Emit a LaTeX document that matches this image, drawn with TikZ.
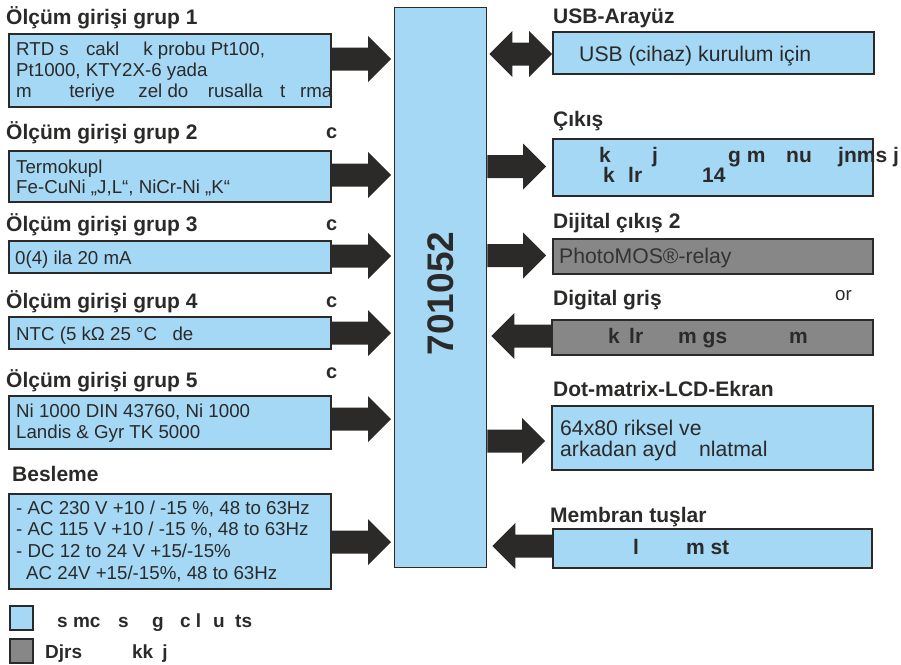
\documentclass[tikz,border=0pt]{standalone}
\usepackage{fontspec}
\setmainfont{Liberation Sans}
\usetikzlibrary{calc}
\definecolor{lb}{RGB}{164,216,245}
\definecolor{gr}{RGB}{135,135,135}
\definecolor{dk}{RGB}{43,42,41}
% right-pointing block arrow: from #1.east to #2.west (minus gap #4) at pixel row #3
\newcommand\arrowR[4]{%
 \fill[dk] let \p1=(#1.east), \p2=(#2.west) in
  (\x1,{-#3pt+11.5pt}) -- ({\x2-#4pt-23pt},{-#3pt+11.5pt}) -- ({\x2-#4pt-23pt},{-#3pt+23pt})
  -- ({\x2-#4pt},{-#3pt}) -- ({\x2-#4pt-23pt},{-#3pt-23pt}) -- ({\x2-#4pt-23pt},{-#3pt-11.5pt})
  -- (\x1,{-#3pt-11.5pt}) -- cycle;}
% left-pointing block arrow: from #1.west to #2.east (plus gap #4)
\newcommand\arrowL[4]{%
 \fill[dk] let \p1=(#1.west), \p2=(#2.east) in
  (\x1,{-#3pt+11.5pt}) -- ({\x2+#4pt+23pt},{-#3pt+11.5pt}) -- ({\x2+#4pt+23pt},{-#3pt+23pt})
  -- ({\x2+#4pt},{-#3pt}) -- ({\x2+#4pt+23pt},{-#3pt-23pt}) -- ({\x2+#4pt+23pt},{-#3pt-11.5pt})
  -- (\x1,{-#3pt-11.5pt}) -- cycle;}
% double block arrow between #1.east and #2.west
\newcommand\arrowD[3]{%
 \fill[dk] let \p1=(#1.east), \p2=(#2.west) in
  ({\x1+2pt},{-#3pt}) -- ({\x1+25pt},{-#3pt+23pt}) -- ({\x1+25pt},{-#3pt+11.5pt})
  -- ({\x2-23pt},{-#3pt+11.5pt}) -- ({\x2-23pt},{-#3pt+23pt}) -- (\x2,{-#3pt})
  -- ({\x2-23pt},{-#3pt-23pt}) -- ({\x2-23pt},{-#3pt-11.5pt}) -- ({\x1+25pt},{-#3pt-11.5pt})
  -- ({\x1+25pt},{-#3pt-23pt}) -- cycle;}
\begin{document}
\begin{tikzpicture}[x=1pt,y=-1pt,
  bx/.style={draw=dk, line width=1.5pt, fill=lb, inner sep=0pt, anchor=north west},
  gbx/.style={bx, fill=gr},
  ttl/.style={inner sep=0pt, anchor=base west, text=dk, font=\fontsize{21}{25}\selectfont\bfseries},
  txt/.style={inner sep=0pt, anchor=base west, text=dk, font=\fontsize{18.7}{22}\selectfont},
  rtxt/.style={inner sep=0pt, anchor=base west, text=dk, font=\fontsize{21.2}{25}\selectfont},
  btxt/.style={inner sep=0pt, anchor=base west, text=dk, font=\fontsize{21}{25}\selectfont\bfseries},
  ltxt/.style={inner sep=0pt, anchor=base west, text=dk, font=\fontsize{19}{23}\selectfont\bfseries},
  ctxt/.style={inner sep=0pt, anchor=base west, text=dk, font=\fontsize{20}{24}\selectfont\bfseries}]
\useasboundingbox (0,0) rectangle (901,664);

% central unit
\node[bx, line width=1.4pt, minimum width=92pt, minimum height=560pt] (core) at (394,7) {};
\node[inner sep=0pt, rotate=90, text=dk, font=\fontsize{37}{40}\selectfont\bfseries] (corelbl) at (441,293.5) {701052};

% left boxes
\node[bx, minimum width=322pt, minimum height=73pt] (b1) at (8,33) {};
\node[bx, minimum width=322pt, minimum height=51pt] (b2) at (8,150) {};
\node[bx, minimum width=322pt, minimum height=32pt] (b3) at (8,240) {};
\node[bx, minimum width=322pt, minimum height=32pt] (b4) at (8,316) {};
\node[bx, minimum width=322pt, minimum height=53pt] (b5) at (8,395) {};
\node[bx, minimum width=322pt, minimum height=95pt] (b6) at (8,493) {};

% right boxes
\node[bx, minimum width=321pt, minimum height=42pt] (r1) at (552,31) {};
\node[bx, minimum width=320pt, minimum height=57pt] (r2) at (552,138) {};
\node[gbx, minimum width=320pt, minimum height=35pt] (r3) at (552,238) {};
\node[gbx, minimum width=321pt, minimum height=35pt] (r4) at (551,319) {};
\node[bx, minimum width=321pt, minimum height=64pt] (r5) at (551,405) {};
\node[bx, minimum width=319pt, minimum height=39pt] (r6) at (552,528) {};

% legend squares
\node[bx, minimum width=23pt, minimum height=24pt] (leg1) at (9,605) {};
\node[gbx, minimum width=23pt, minimum height=24pt] (leg2) at (9,638) {};

% arrows
\arrowR{b1}{core}{59}{3}
\arrowR{b2}{core}{175}{3}
\arrowR{b3}{core}{256}{3}
\arrowR{b4}{core}{333}{3}
\arrowR{b5}{core}{419}{3}
\arrowR{b6}{core}{542}{3}
\arrowD{core}{r1}{54}
\arrowR{core}{r2}{166.5}{6}
\arrowR{core}{r3}{255.5}{6}
\arrowL{r4}{core}{336}{4}
\arrowR{core}{r5}{441}{6}
\arrowL{r6}{core}{546}{5}

% left titles
\node[ttl] (t1) at (6,24) {Ölçüm girişi grup 1};
\node[ttl] (t2) at (6,139) {Ölçüm girişi grup 2};
\node[ttl] (t3) at (6,231) {Ölçüm girişi grup 3};
\node[ttl] (t4) at (6,308) {Ölçüm girişi grup 4};
\node[ttl] (t5) at (6,387) {Ölçüm girişi grup 5};
\node[ttl] (t6) at (12,481) {Besleme};
\node[ctxt] (c2) at (326,138) {c};
\node[ctxt] (c3) at (326,230) {c};
\node[ctxt] (c4) at (326,307) {c};
\node[ctxt] (c5) at (326,378) {c};

% left texts
\node[txt] (x11) at (16,55) {RTD s\hspace{17.3pt}cakl\hspace{24pt}k probu Pt100,};
\node[txt] (x12) at (16,76) {Pt1000, KTY2X-6 yada};
\node[txt] (x13) at (16,97) {m\hspace{37.5pt}teriye\hspace{23.5pt}zel do\hspace{19.4pt}rusalla\hspace{17.2pt}t\hspace{14.8pt}rma};
\node[txt] (x21) at (16,173) {Termokupl};
\node[txt] (x22) at (16,193.5) {Fe-CuNi „J,L“, NiCr-Ni „K“};
\node[txt] (x31) at (15,264) {0(4) ila 20 mA};
\node[txt] (x41) at (16,340) {NTC (5 kΩ 25 °C\hspace{15.4pt}de};
\node[txt] (x51) at (16,417) {Ni 1000 DIN 43760, Ni 1000};
\node[txt] (x52) at (16,438) {Landis \& Gyr TK 5000};
\node[txt] (x61) at (16,514) {- AC 230 V +10 / -15 \%, 48 to 63Hz};
\node[txt] (x62) at (16,535.7) {- AC 115 V +10 / -15 \%, 48 to 63Hz};
\node[txt] (x63) at (16,557.4) {- DC 12 to 24 V +15/-15\%};
\node[txt] (x64) at (26,579) {AC 24V +15/-15\%, 48 to 63Hz};

% right titles
\node[ttl] (s1) at (553,23.5) {USB-Arayüz};
\node[ttl] (s2) at (553,126.5) {Çıkış};
\node[ttl] (s3) at (553,228) {Dijital çıkış 2};
\node[ttl] (s4) at (553,305) {Digital griş};
\node[ttl] (s5) at (553,396) {Dot-matrix-LCD-Ekran};
\node[ttl] (s6) at (550,522) {Membran tuşlar};
\node[txt] (orlbl) at (835,300) {or};

% right texts
\node[rtxt] (y11) at (579,61) {USB (cihaz) kurulum için};
\node[btxt] (y21) at (599,162) {k\hspace{41.3pt}j\hspace{70.2pt}g m\hspace{20.7pt}nu\hspace{26.3pt}jnms j};
\node[btxt] (y22) at (603,182) {k\hspace{13.3pt}lr\hspace{60pt}14};
\node[rtxt, text=black!80] (y31) at (559,263.5) {PhotoMOS®-relay};
\node[btxt] (y41) at (608,343) {k\hspace{9.3pt}lr\hspace{35pt}m gs\hspace{62pt}m};
\node[rtxt] (y51) at (560,435) {64x80 riksel ve};
\node[rtxt] (y52) at (560,456.5) {arkadan ayd\hspace{22.3pt}nlatmal};
\node[btxt] (y61) at (633,554) {l\hspace{47pt}m st};

% legend texts
\node[ltxt] (lt1) at (57,627) {s mc\hspace{17.7pt}s\hspace{23.4pt}g\hspace{16.4pt}c l\hspace{11.9pt}u\hspace{10.4pt}ts};
\node[ltxt] (lt2) at (45,658) {Djrs\hspace{50pt}kk\hspace{9pt}j};
\end{tikzpicture}
\end{document}
